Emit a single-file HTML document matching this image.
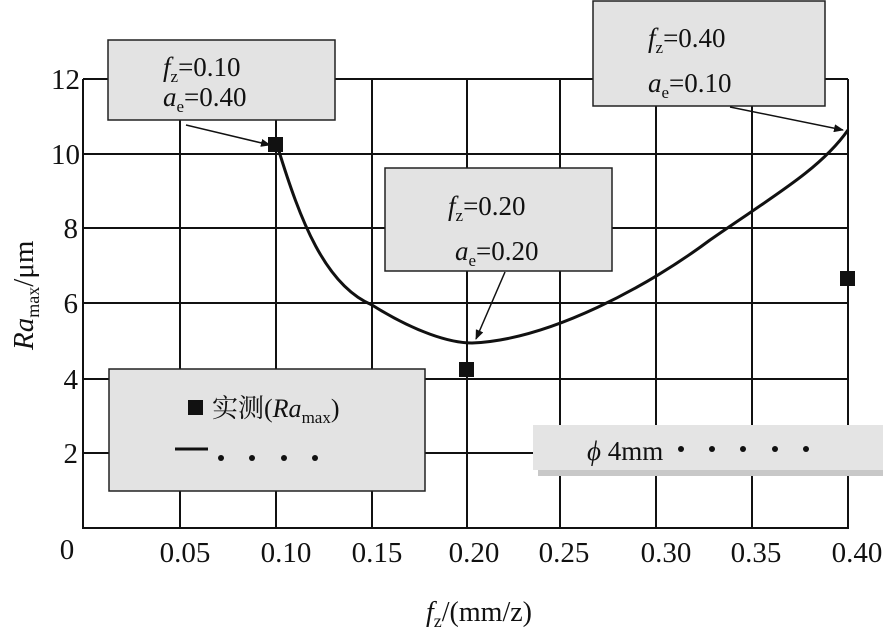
<!DOCTYPE html>
<html><head><meta charset="utf-8"><style>
html,body{margin:0;padding:0;background:#fff}
svg{display:block}
text{font-family:"Liberation Serif","Noto Serif CJK SC",serif;fill:#111}
</style></head><body>
<svg width="883" height="631" viewBox="0 0 883 631" xmlns="http://www.w3.org/2000/svg">
<defs><marker id="ar" markerWidth="10" markerHeight="8" refX="9" refY="4" orient="auto" markerUnits="userSpaceOnUse"><path d="M0,0 L10,4 L0,8 z" fill="#111"/></marker></defs>
<g stroke="#111" stroke-width="2">
<line x1="180" y1="79" x2="180" y2="528"/><line x1="276" y1="79" x2="276" y2="528"/>
<line x1="372" y1="79" x2="372" y2="528"/><line x1="467" y1="79" x2="467" y2="528"/>
<line x1="560" y1="79" x2="560" y2="528"/><line x1="656" y1="79" x2="656" y2="528"/>
<line x1="752" y1="79" x2="752" y2="528"/><line x1="848" y1="79" x2="848" y2="528"/>
<line x1="83" y1="79" x2="848" y2="79"/><line x1="83" y1="154" x2="848" y2="154"/>
<line x1="83" y1="228" x2="848" y2="228"/><line x1="83" y1="303" x2="848" y2="303"/>
<line x1="83" y1="379" x2="848" y2="379"/><line x1="83" y1="453" x2="848" y2="453"/>
<line x1="83" y1="79" x2="83" y2="529"/><line x1="82" y1="528" x2="849" y2="528"/>
</g>
<path d="M278,148 C300,220 325,285 372,305 C415,332 450,343 472,343 C550,340 650,285 710,240 C770,198 820,170 848,130" fill="none" stroke="#111" stroke-width="3"/>
<rect x="268" y="137" width="15" height="15" fill="#111"/>
<rect x="459" y="362" width="15" height="15" fill="#111"/>
<rect x="840" y="271" width="15" height="15" fill="#111"/>
<rect x="108" y="40" width="227" height="80" fill="#e3e3e3" stroke="#222" stroke-width="1.5"/>
<text x="163" y="76" font-size="27"><tspan font-style="italic">f</tspan><tspan font-size="17" dy="6">z</tspan><tspan dy="-6">=0.10</tspan></text>
<text x="163" y="106" font-size="27"><tspan font-style="italic">a</tspan><tspan font-size="17" dy="6">e</tspan><tspan dy="-6">=0.40</tspan></text>
<rect x="593" y="1" width="232" height="105" fill="#e3e3e3" stroke="#222" stroke-width="1.5"/>
<text x="648" y="47" font-size="27"><tspan font-style="italic">f</tspan><tspan font-size="17" dy="6">z</tspan><tspan dy="-6">=0.40</tspan></text>
<text x="648" y="92" font-size="27"><tspan font-style="italic">a</tspan><tspan font-size="17" dy="6">e</tspan><tspan dy="-6">=0.10</tspan></text>
<rect x="385" y="168" width="227" height="103" fill="#e3e3e3" stroke="#222" stroke-width="1.5"/>
<text x="448" y="215" font-size="27"><tspan font-style="italic">f</tspan><tspan font-size="17" dy="6">z</tspan><tspan dy="-6">=0.20</tspan></text>
<text x="455" y="260" font-size="27"><tspan font-style="italic">a</tspan><tspan font-size="17" dy="6">e</tspan><tspan dy="-6">=0.20</tspan></text>
<g stroke="#111" stroke-width="1.5" marker-end="url(#ar)">
<line x1="186" y1="125" x2="270" y2="145"/>
<line x1="730" y1="107" x2="843" y2="130"/>
<line x1="505" y1="272" x2="476" y2="339"/>
</g>
<rect x="109" y="369" width="316" height="122" fill="#e3e3e3" stroke="#222" stroke-width="1.5"/>
<rect x="188" y="400" width="15" height="15" fill="#111"/>
<text x="212" y="417" font-size="26">实测(<tspan font-style="italic">Ra</tspan><tspan font-size="17" dy="6">max</tspan><tspan dy="-6">)</tspan></text>
<line x1="175" y1="449" x2="208" y2="449" stroke="#111" stroke-width="3"/>
<g fill="#111"><circle cx="221" cy="458" r="3"/><circle cx="252" cy="458" r="3"/><circle cx="284" cy="458" r="3"/><circle cx="315" cy="458" r="3"/></g>
<rect x="538" y="468" width="345" height="8" fill="#c8c8c8"/>
<rect x="533" y="425" width="350" height="45" fill="#e4e4e4"/>
<text x="587" y="460" font-size="27"><tspan font-style="italic">ϕ</tspan> 4mm</text>
<g fill="#111"><circle cx="681" cy="449" r="3"/><circle cx="712" cy="449" r="3"/><circle cx="743" cy="449" r="3"/><circle cx="775" cy="449" r="3"/><circle cx="806" cy="449" r="3"/></g>
<g font-size="29" text-anchor="end">
<text x="80" y="89">12</text><text x="80" y="164">10</text><text x="78" y="238">8</text>
<text x="78" y="313">6</text><text x="78" y="389">4</text><text x="78" y="463">2</text>
</g>
<g font-size="29" text-anchor="middle">
<text x="67" y="559">0</text><text x="185" y="562">0.05</text><text x="286" y="562">0.10</text>
<text x="377" y="562">0.15</text><text x="474" y="562">0.20</text><text x="564" y="562">0.25</text>
<text x="666" y="562">0.30</text><text x="756" y="562">0.35</text><text x="857" y="562">0.40</text>
</g>
<text x="426" y="621" font-size="28"><tspan font-style="italic">f</tspan><tspan font-size="18" dy="6">z</tspan><tspan dy="-6">/(mm/z)</tspan></text>
<text transform="translate(33,350) rotate(-90)" font-size="29"><tspan font-style="italic">Ra</tspan><tspan font-size="18" dy="6">max</tspan><tspan dy="-6">/μm</tspan></text>
</svg>
</body></html>
